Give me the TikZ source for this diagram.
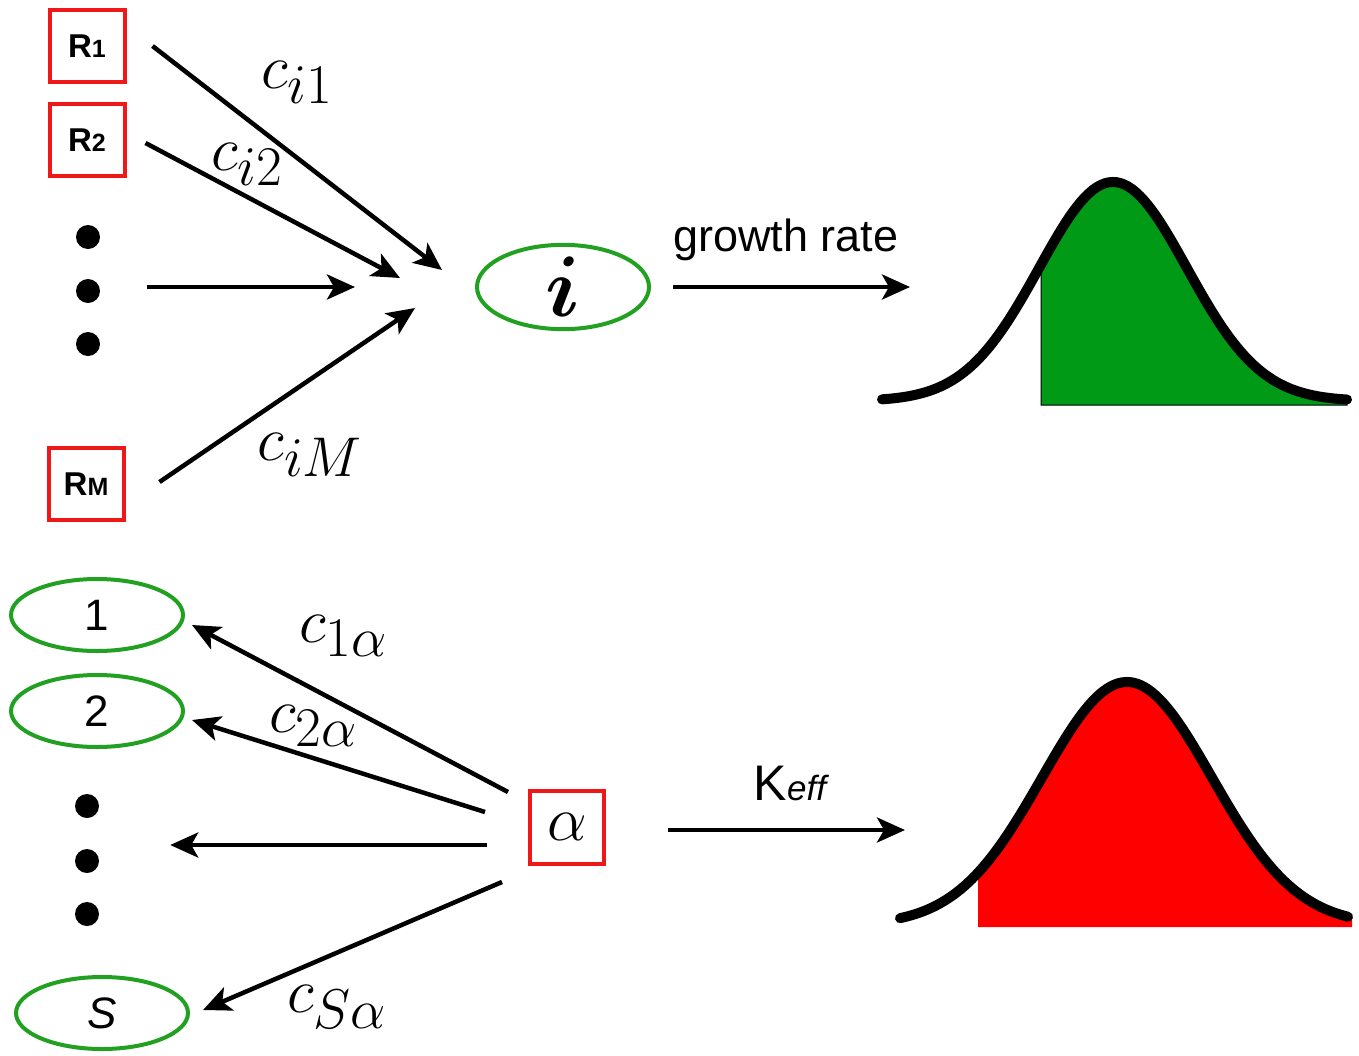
\RequirePackage{fix-cm}
\documentclass[tikz,border=0pt]{standalone}
\usepackage{amsmath}
\usepackage{fontspec}
\setmainfont{Liberation Sans}
\usetikzlibrary{arrows.meta,shapes.geometric}

\DeclareMathSizes{63}{63}{56}{45}
\definecolor{boxred}{RGB}{238,24,24}
\definecolor{ringgreen}{RGB}{34,160,34}
\definecolor{areagreen}{RGB}{0,154,22}
\definecolor{areared}{RGB}{255,0,0}

\begin{document}
\begin{tikzpicture}[
    x=1pt, y=-1pt,
    res node/.style={rectangle, draw=boxred, line width=4pt, minimum width=75pt, minimum height=72pt, inner sep=0pt, font=\bfseries\fontsize{33}{33}\selectfont},
    sp node/.style={ellipse, draw=ringgreen, line width=4pt, minimum width=172pt, minimum height=72pt, inner sep=0pt, font=\fontsize{44}{44}\selectfont},
    dot node/.style={circle, fill=black, minimum size=24pt, inner sep=0pt},
    coef node/.style={inner sep=0pt, font=\fontsize{63}{63}\selectfont},
    main edge/.style={line width=4.5pt, -{Stealth[length=28pt,width=25pt,inset=7pt]}},
    bell/.style={line width=10pt, line cap=round}
]
\useasboundingbox (0,0) rectangle (1359,1055);

% reactions R1 ... RM and species i
\node[res node] (R1) at (87,46)  {R{\fontsize{25}{25}\selectfont 1}};
\node[res node] (R2) at (87,140) {R{\fontsize{25}{25}\selectfont 2}};
\node[res node] (RM) at (86,484) {R{\fontsize{25}{25}\selectfont M}};
\node[dot node] (d1) at (88,237) {};
\node[dot node] (d2) at (88,291) {};
\node[dot node] (d3) at (88,344) {};
\node[sp node, font=\fontsize{86}{86}\selectfont] (i) at (563,287) {$\boldsymbol{i}$};

\coordinate (in1) at (442,270);
\coordinate (in2) at (400,278);
\coordinate (in3) at (355,287);
\coordinate (inM) at (415,308);
\coordinate (gtip) at (910,287);

\draw[main edge] ([xshift=26pt]R1.east) -- (in1);
\draw[main edge] ([xshift=19pt,yshift=-3pt]R2.east) -- (in2);
\draw[main edge] ([xshift=47pt,yshift=4pt]d2.east) -- (in3);
\draw[main edge] ([xshift=34pt,yshift=2pt]RM.east) -- (inM);
\draw[main edge] ([xshift=22pt]i.east) -- (gtip);

\node[coef node] (ci1) at (297,82)  {$c_{i1}$};
\node[coef node] (ci2) at (247,164) {$c_{i2}$};
\node[coef node] (ciM) at (310,455) {$c_{iM}$};
\node[font=\fontsize{45}{45}\selectfont] (grow) at (786,240) {growth rate};

% growth rate distribution
\fill[areagreen, draw=black, line width=1pt] (1041,405) -- plot[domain=1041:1347, samples=80] (\x, {401-219*exp(-((\x-1113)/74)*((\x-1113)/74)/2)}) -- (1347,405) -- cycle;
\draw[bell] plot[domain=882:1347, samples=120] (\x, {401-219*exp(-((\x-1113)/74)*((\x-1113)/74)/2)});

% resource alpha and species 1 ... S
\node[sp node] (s1) at (97,615)  {1};
\node[sp node] (s2) at (97,711)  {2};
\node[sp node] (sS) at (102,1013) {\itshape S};
\node[dot node] (d4) at (87,806) {};
\node[dot node] (d5) at (87,861) {};
\node[dot node] (d6) at (87,914) {};
\node[res node, minimum width=74pt, minimum height=73pt, font=\fontsize{63}{63}\selectfont] (a) at (567,827) {$\alpha$};

\coordinate (ktip) at (905,830);

\draw[main edge] ([xshift=-20pt,yshift=35pt]a.west) -- ([xshift=7pt,yshift=-10pt]s1.east);
\draw[main edge] ([xshift=-43pt,yshift=15pt]a.west) -- ([xshift=7pt,yshift=-9pt]s2.east);
\draw[main edge] ([xshift=-41pt,yshift=-18pt]a.west) -- ([xshift=71pt,yshift=16pt]d5.east);
\draw[main edge] ([xshift=-26pt,yshift=-55pt]a.west) -- ([xshift=13pt,yshift=3pt]sS.east);
\draw[main edge] ([xshift=62pt,yshift=-3pt]a.east) -- (ktip);

\node[coef node] (c1a) at (343,636)  {$c_{1\alpha}$};
\node[coef node] (c2a) at (313,726)  {$c_{2\alpha}$};
\node[coef node] (cSa) at (337,1007) {$c_{S\alpha}$};
\node[font=\fontsize{50}{50}\selectfont] (keff) at (790,783) {K{\fontsize{35}{35}\selectfont\itshape eff}};

% K_eff distribution
\fill[areared] (978,927) -- plot[domain=978:1352, samples=80] (\x, {925-243*exp(-((\x-1127)/85)*((\x-1127)/85)/2)}) -- (1352,927) -- cycle;
\draw[bell] plot[domain=900:1348, samples=120] (\x, {925-243*exp(-((\x-1127)/85)*((\x-1127)/85)/2)});

\end{tikzpicture}
\end{document}
